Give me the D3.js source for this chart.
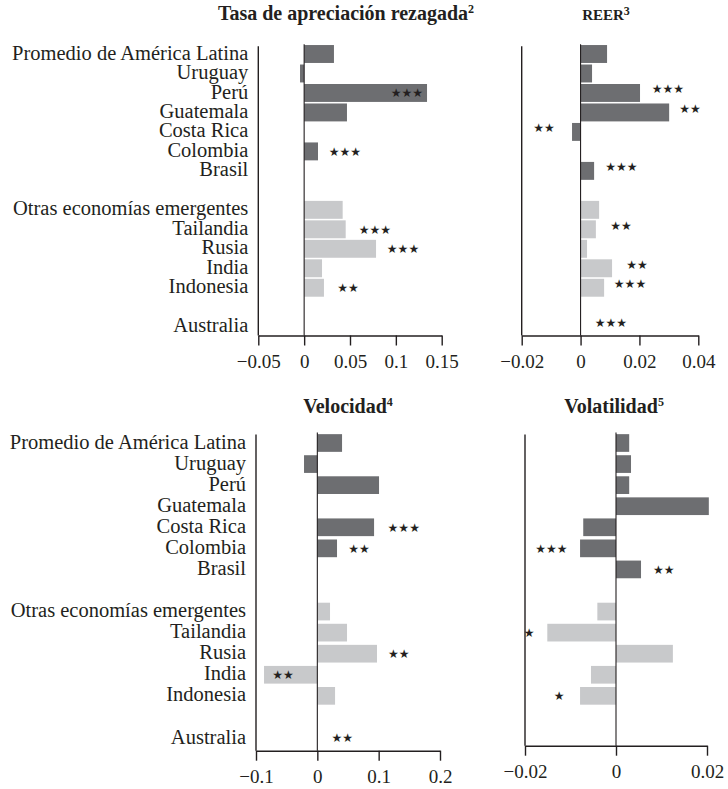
<!DOCTYPE html>
<html><head><meta charset="utf-8">
<script src="https://cdn.jsdelivr.net/npm/d3@7"></script>
<style>body{margin:0;background:#fff}</style>
</head><body><svg id="c" width="728" height="789"></svg>
<script>
const latinCategories = ["Promedio de América Latina","Uruguay","Perú","Guatemala","Costa Rica","Colombia","Brasil"];
const otherCategories = ["Otras economías emergentes","Tailandia","Rusia","India","Indonesia"];
const refCategories = ["Australia"];

const titles = ["Tasa de apreciación rezagada","REER","Velocidad","Volatilidad"];
const titleNotes = ["2","3","4","5"];

// order: latin (7), others (5), Australia (1); null = no bar
const lagAppreciation = [0.0325,-0.0045,0.134,0.0467,null,0.0151,null, 0.042,0.0453,0.0784,0.0195,0.0216, null];
const reer = [0.009,0.0039,0.0202,0.0301,-0.0029,null,0.0046, 0.0063,0.0052,0.0022,0.0107,0.008, null];
const velocity = [0.0403,-0.0217,0.1006,null,0.0925,0.0321,null, 0.0207,0.0484,0.0973,-0.0869,0.0289, null];
const volatility = [0.0029,0.0033,0.0029,0.0204,-0.0072,-0.0079,0.0055, -0.0041,-0.0151,0.0125,-0.0055,-0.0079, null];

// significance stars: [category, x in data units, number of stars]
const lagStars = [["Perú",0.112,3],["Colombia",0.0445,3],["Tailandia",0.0772,3],["Rusia",0.1078,3],["Indonesia",0.0478,2]];
const reerStars = [["Perú",0.0297,3],["Guatemala",0.0372,2],["Costa Rica",-0.0124,2],["Brasil",0.0139,3],["Tailandia",0.0137,2],["India",0.0192,2],["Indonesia",0.0168,3],["Australia",0.0103,3]];
const velocityStars = [["Costa Rica",0.1409,3],["Colombia",0.068,2],["Rusia",0.1327,2],["India",-0.0559,2],["Australia",0.0408,2]];
const volatilityStars = [["Colombia",-0.0142,3],["Brasil",0.0105,2],["Tailandia",-0.0191,1],["Indonesia",-0.0125,1]];

const lagTicks = [-0.05,0,0.05,0.1,0.15];
const reerTicks = [-0.02,0,0.02,0.04];
const velocityTicks = [-0.1,0,0.1,0.2];
const volatilityTicks = [-0.02,0,0.02];

const allCats = [...latinCategories, ...otherCategories, ...refCategories];
const slots = [...latinCategories, "_g1", ...otherCategories, "_g2", ...refCategories];

const INK = "#231f20", DARK = "#6d6e71", LIGHT = "#c8c9cb";
const SERIF = "'Liberation Serif','Times New Roman',serif";

const panels = [
  {values: lagAppreciation, stars: lagStars, ticks: lagTicks, title: 0, xr: [258.3, 441.7], c0: 54, step: 19.48, pad: 0.08, axisY: 335.5, labels: true, tx: 346, ty: 20, starDy: 0, titleSize: 20},
  {values: reer, stars: reerStars, ticks: reerTicks, title: 1, xr: [521.7, 698.3], c0: 54, step: 19.48, pad: 0.08, axisY: 335.5, labels: false, tx: 606, ty: 20, starDy: -4, titleSize: 15},
  {values: velocity, stars: velocityStars, ticks: velocityTicks, title: 2, xr: [256, 440], c0: 443, step: 21.07, pad: 0.16, axisY: 750.7, labels: true, tx: 348, ty: 413, starDy: 0, titleSize: 20},
  {values: volatility, stars: volatilityStars, ticks: volatilityTicks, title: 3, xr: [525, 707], c0: 443, step: 21.07, pad: 0.16, axisY: 745.7, labels: false, tx: 614, ty: 413, starDy: 0, titleSize: 20}
];

const svg = d3.select("#c");
const fmt = d => d === 0 ? "0" : d3.format("~g")(d);

panels.forEach(p => {
  const g = svg.append("g");
  const x = d3.scaleLinear().domain([p.ticks[0], p.ticks[p.ticks.length-1]]).range(p.xr);
  const y0 = p.c0 - p.step/2;
  const y = d3.scaleBand().domain(slots).range([y0, y0 + p.step*slots.length]).paddingInner(p.pad).paddingOuter(p.pad/2);

  // bars
  const rows = allCats.map((c,i) => ({cat: c, v: p.values[i], light: otherCategories.includes(c)})).filter(d => d.v !== null);
  g.selectAll("rect.bar").data(rows).join("rect")
    .attr("class","bar")
    .attr("x", d => x(Math.min(0,d.v)))
    .attr("width", d => Math.abs(x(d.v) - x(0)))
    .attr("y", d => y(d.cat))
    .attr("height", y.bandwidth())
    .attr("fill", d => d.light ? LIGHT : DARK);

  // zero line
  g.append("line").attr("x1", x(0)).attr("x2", x(0)).attr("y1", y.range()[0]).attr("y2", p.axisY)
    .attr("stroke", INK).attr("stroke-width", 1.1);
  // left axis line
  g.append("line").attr("x1", x(p.ticks[0])).attr("x2", x(p.ticks[0])).attr("y1", y.range()[0] + 2).attr("y2", p.axisY)
    .attr("stroke", INK).attr("stroke-width", 1.4);

  // category labels
  if (p.labels) {
    const ya = g.append("g").attr("transform", `translate(${x(p.ticks[0])},0)`)
      .call(d3.axisLeft(y).tickSize(0).tickPadding(10).tickFormat(d => d.startsWith("_") ? "" : d));
    ya.select(".domain").remove();
    ya.selectAll("text").attr("font-family", SERIF).attr("font-size", 20.5).attr("fill", INK).attr("dy", "0.27em");
  }

  // bottom axis
  const xa = g.append("g").attr("transform", `translate(0,${p.axisY})`)
    .call(d3.axisBottom(x).tickValues(p.ticks).tickSizeInner(10).tickSizeOuter(0).tickPadding(9).tickFormat(fmt));
  xa.select(".domain").attr("stroke", INK).attr("stroke-width", 1.4);
  xa.selectAll(".tick line").attr("stroke", INK).attr("stroke-width", 1.4);
  xa.selectAll("text").attr("font-family", SERIF).attr("font-size", 19).attr("fill", INK);

  // stars
  g.selectAll("text.star").data(p.stars).join("text")
    .attr("class","star")
    .attr("x", d => x(d[1]))
    .attr("y", d => y(d[0]) + y.bandwidth()/2 + p.starDy)
    .attr("dy", "0.36em")
    .attr("text-anchor","middle")
    .attr("font-family","'DejaVu Sans',sans-serif")
    .attr("font-size", 12)
    .attr("fill", INK)
    .text(d => "★".repeat(d[2]));

  // title
  const t = g.append("text").attr("x", p.tx).attr("y", p.ty).attr("text-anchor","middle")
    .attr("font-family", SERIF).attr("font-weight","bold").attr("font-size", p.titleSize).attr("fill", INK);
  t.append("tspan").text(titles[p.title]);
  t.append("tspan").attr("font-size", 12).attr("dy", p.title === 1 ? -5 : -7).text(titleNotes[p.title]);
});
</script>
</body></html>
